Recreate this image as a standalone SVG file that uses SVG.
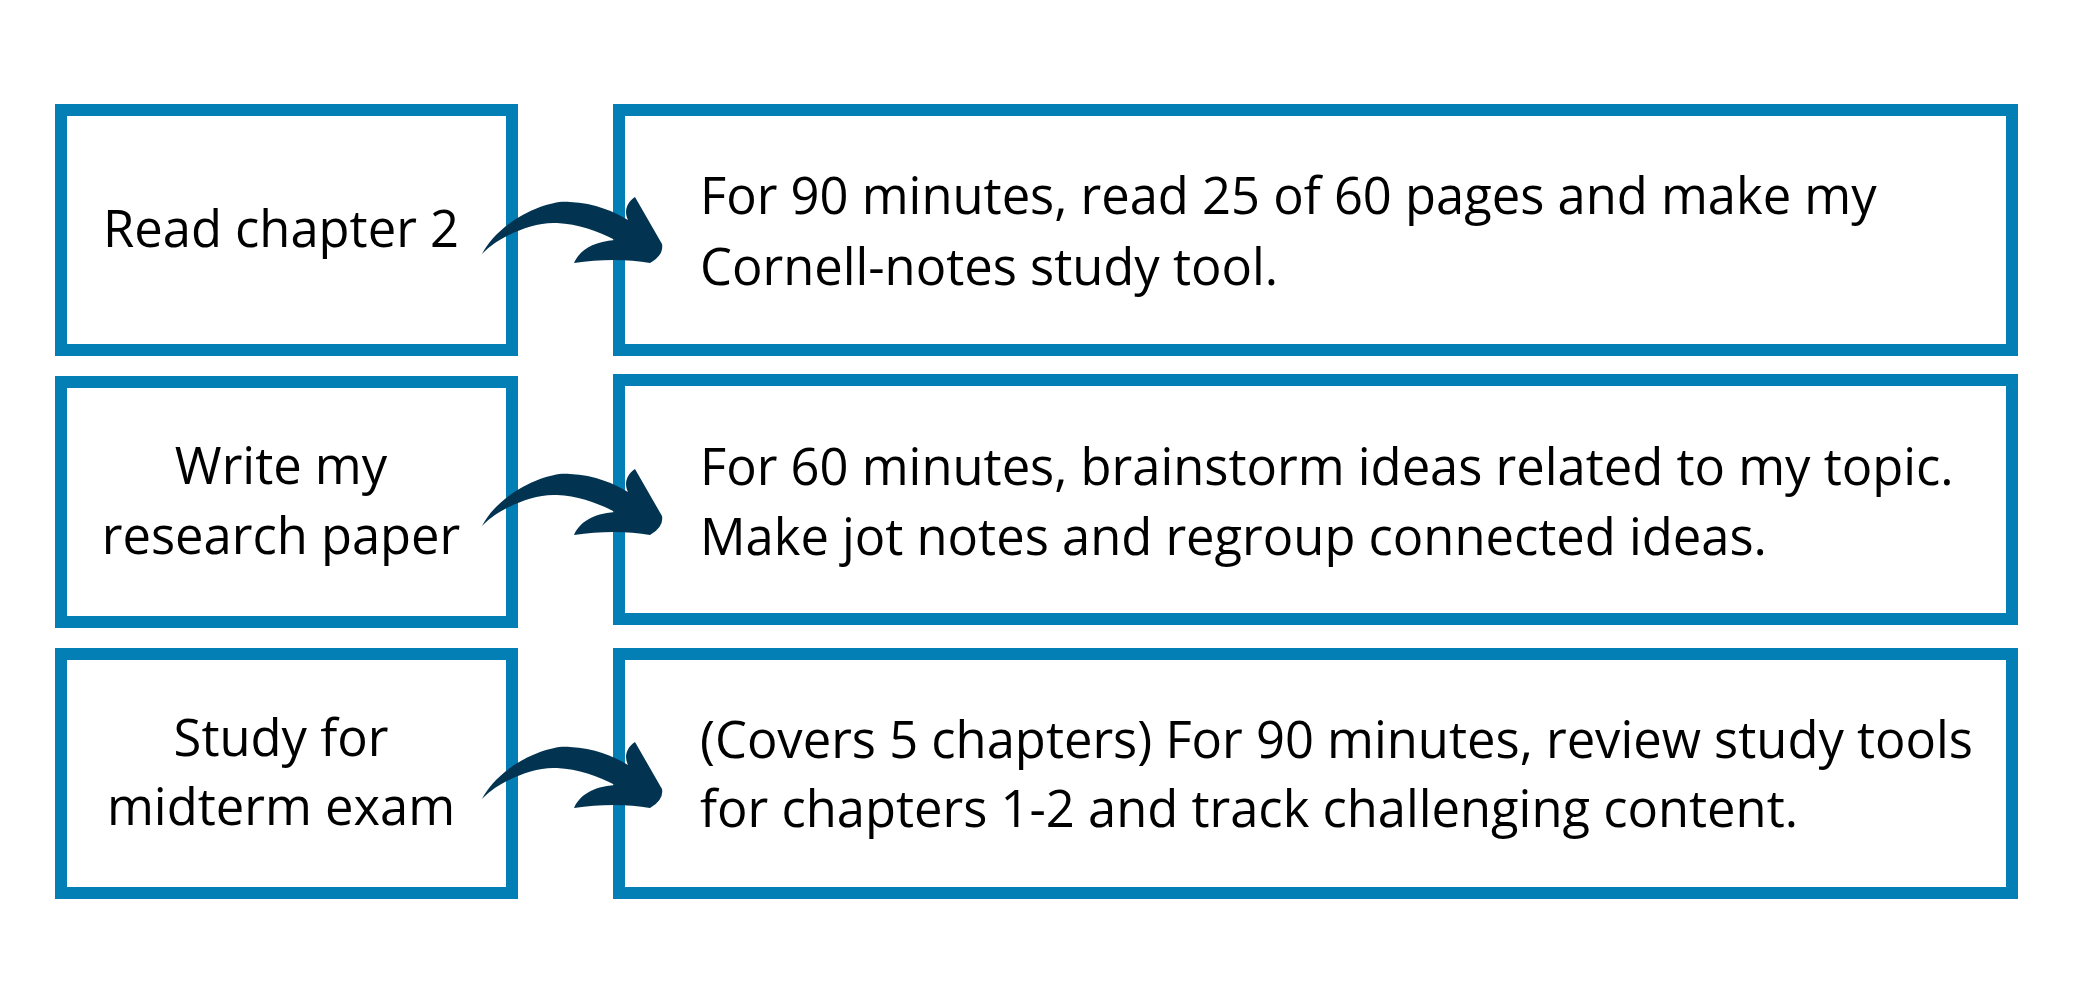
<svg xmlns="http://www.w3.org/2000/svg" width="2100" height="1000" viewBox="0 0 2100 1000">
<defs>
<style>
.box{fill:#ffffff;stroke:#037fb5;stroke-width:12}
.t{font-family:"Open Sans","Noto Sans","Liberation Sans",sans-serif;font-size:50.7px;fill:#000000}
.c{text-anchor:middle}
.arrow{fill:#023452}
</style>
<path id="arw" d="M482,254 C490,238 510,218 540,207 C552,203 560,201 570,202 C595,203 615,212 628,220 C624,212 626,203 635,197 L662,244 Q664,255 650,263 C628,259 600,259 574,263 C580,250 592,242 615,240 C598,231 578,224 557,223 C540,222 522,228 505,237 C495,242 488,248 482,254 Z"/>
</defs>
<rect width="2100" height="1000" fill="#ffffff"/>
<g id="task1">
<rect class="box" x="61" y="110" width="451" height="240"/>
<text class="t c" x="281" y="247">Read chapter 2</text>
</g>
<g id="plan1">
<rect class="box" x="619" y="110" width="1393" height="240"/>
<text class="t" x="700" y="214">For 90 minutes, read 25 of 60 pages and make my</text>
<text class="t" x="700" y="285">Cornell-notes study tool.</text>
</g>
<g id="task2">
<rect class="box" x="61" y="382" width="451" height="240"/>
<text class="t c" x="281" y="484">Write my</text>
<text class="t c" x="281" y="554">research paper</text>
</g>
<g id="plan2">
<rect class="box" x="619" y="380" width="1393" height="239"/>
<text class="t" x="700" y="485">For 60 minutes, brainstorm ideas related to my topic.</text>
<text class="t" x="700" y="555">Make jot notes and regroup connected ideas.</text>
</g>
<g id="task3">
<rect class="box" x="61" y="654" width="451" height="239"/>
<text class="t c" x="281" y="756">Study for</text>
<text class="t c" x="281" y="825">midterm exam</text>
</g>
<g id="plan3">
<rect class="box" x="619" y="654" width="1393" height="239"/>
<text class="t" x="700" y="758">(Covers 5 chapters) For 90 minutes, review study tools</text>
<text class="t" x="700" y="827">for chapters 1-2 and track challenging content.</text>
</g>
<g id="connectors">
<use href="#arw" class="arrow"/>
<use href="#arw" class="arrow" transform="translate(0,272)"/>
<use href="#arw" class="arrow" transform="translate(0,545)"/>
</g>
</svg>
